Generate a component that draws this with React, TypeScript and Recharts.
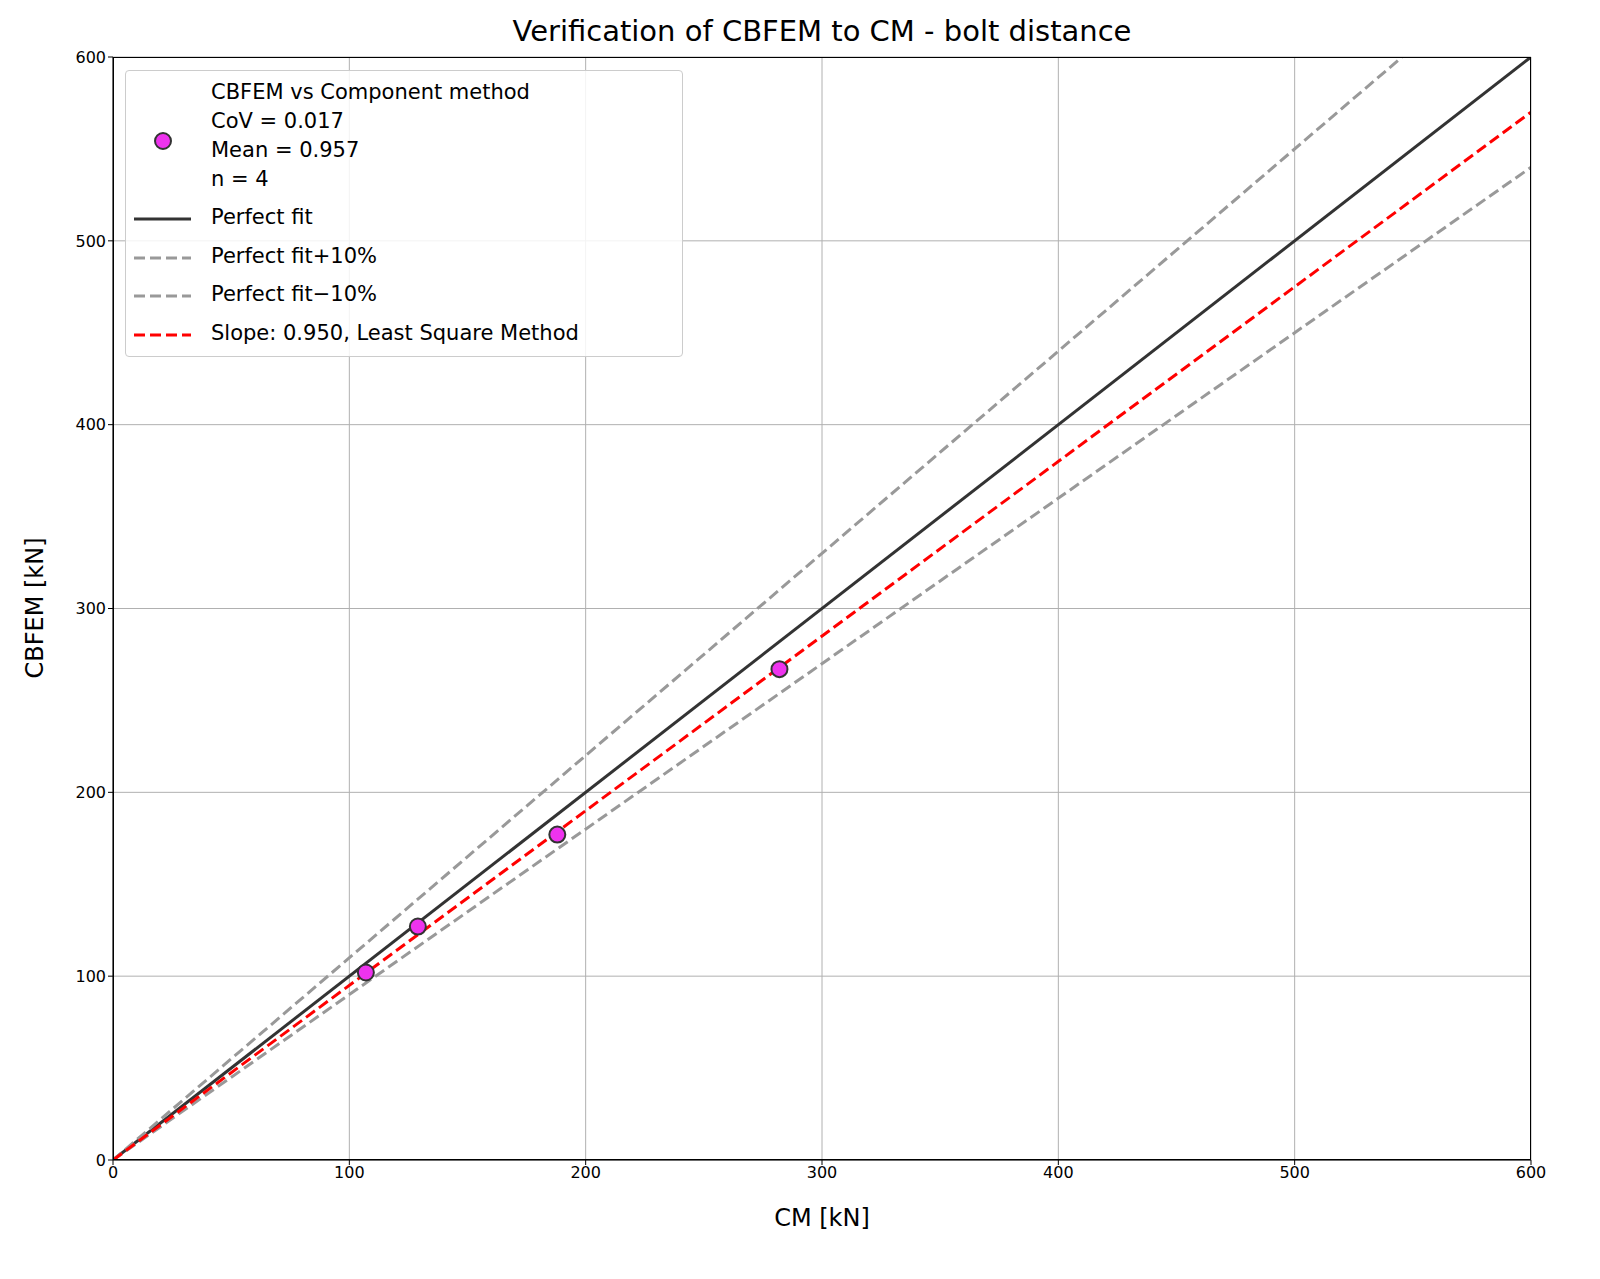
import React from 'react';
import { ComposedChart, Line, Scatter, XAxis, YAxis, CartesianGrid } from 'recharts';

const cm = [107, 129, 188, 282];
const cbfem = [102, 127, 177, 267];
const ticks = [0, 100, 200, 300, 400, 500, 600];
const perfectX = [0, 600];
const perfectY = [0, 600];
const plusX = [0, 545.45];
const plusY = [0, 600];
const minusX = [0, 600];
const minusY = [0, 540];
const lsqX = [0, 600];
const lsqY = [0, 570];

const pts = cm.map((x, i) => ({ x, y: cbfem[i] }));
const mk = (xs: number[], ys: number[]) => xs.map((x, i) => ({ x, y: ys[i] }));

const font = 'DejaVu Sans';

export default function App() {
  return (
    <div style={{ position: 'absolute', left: 0, top: 0, width: 1600, height: 1279, background: '#fff', fontFamily: font }}>
      <ComposedChart width={1600} height={1279} margin={{ top: 57, right: 69, bottom: 89, left: 53 }}>
        <CartesianGrid stroke="#b0b0b0" strokeWidth={1} />
        <XAxis type="number" dataKey="x" domain={[0, 600]} ticks={ticks} allowDataOverflow height={30}
          stroke="#000" tick={{ fill: '#000', fontSize: 16, fontFamily: font }} tickSize={5} />
        <YAxis type="number" dataKey="y" domain={[0, 600]} ticks={ticks} allowDataOverflow width={60}
          stroke="#000" tick={{ fill: '#000', fontSize: 16, fontFamily: font }} tickSize={5} />
        <Line data={mk(perfectX, perfectY)} dataKey="y" stroke="#333" strokeWidth={3} dot={false} isAnimationActive={false} />
        <Line data={mk(plusX, plusY)} dataKey="y" stroke="#999" strokeWidth={3} strokeDasharray="11 5" dot={false} isAnimationActive={false} />
        <Line data={mk(minusX, minusY)} dataKey="y" stroke="#999" strokeWidth={3} strokeDasharray="11 5" dot={false} isAnimationActive={false} />
        <Line data={mk(lsqX, lsqY)} dataKey="y" stroke="#f00" strokeWidth={3} strokeDasharray="11 5" dot={false} isAnimationActive={false} />
        <Scatter data={pts} isAnimationActive={false}
          shape={(p: any) => <circle cx={p.cx} cy={p.cy} r={8} fill="#ee33ee" stroke="#333" strokeWidth={2} />} />
      </ComposedChart>
      <div style={{ position: 'absolute', left: 113, top: 57, width: 1418, height: 1103, border: '1.5px solid #000', boxSizing: 'border-box', pointerEvents: 'none' }} />
      <div style={{ position: 'absolute', top: 14, left: 0, width: 1644, textAlign: 'center', fontSize: 29 }}>Verification of CBFEM to CM - bolt distance</div>
      <div style={{ position: 'absolute', top: 1204, left: 0, width: 1644, textAlign: 'center', fontSize: 24 }}>CM [kN]</div>
      <div style={{ position: 'absolute', left: 35, top: 608, transform: 'translate(-50%,-50%) rotate(-90deg)', fontSize: 24, whiteSpace: 'nowrap' }}>CBFEM [kN]</div>
      <div style={{ position: 'absolute', left: 125, top: 70, width: 558, height: 287, border: '1px solid #ccc', borderRadius: 4, background: 'rgba(255,255,255,0.85)', boxSizing: 'border-box', fontSize: 21 }}>
        <svg style={{ position: 'absolute', left: 0, top: 0 }} width={558} height={287}>
          <circle cx={37} cy={70} r={8} fill="#ee33ee" stroke="#333" strokeWidth={2} />
          <line x1={8} x2={65} y1={148} y2={148} stroke="#333" strokeWidth={3} />
          <line x1={8} x2={65} y1={187} y2={187} stroke="#999" strokeWidth={3} strokeDasharray="11 5" />
          <line x1={8} x2={65} y1={225} y2={225} stroke="#999" strokeWidth={3} strokeDasharray="11 5" />
          <line x1={8} x2={65} y1={264} y2={264} stroke="#f00" strokeWidth={3} strokeDasharray="11 5" />
        </svg>
        <div style={{ position: 'absolute', left: 85, top: 7, lineHeight: '29px' }}>
          CBFEM vs Component method<br />CoV = 0.017<br />Mean = 0.957<br />n = 4
        </div>
        {['Perfect fit', 'Perfect fit+10%', 'Perfect fit\u221210%', 'Slope: 0.950, Least Square Method'].map((t, i) => (
          <div key={t} style={{ position: 'absolute', left: 85, top: [134, 173, 211, 250][i], whiteSpace: 'nowrap' }}>{t}</div>
        ))}
      </div>
    </div>
  );
}
